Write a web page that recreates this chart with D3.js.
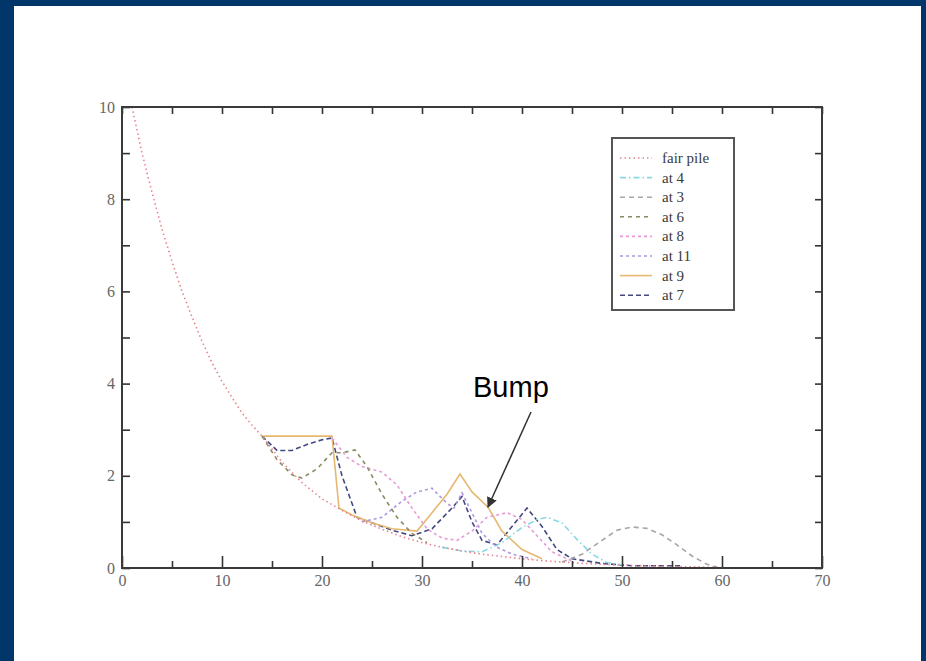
<!DOCTYPE html>
<html>
<head>
<meta charset="utf-8">
<style>
  body { margin: 0; background: #01366b; }
  svg { display: block; }
</style>
</head>
<body>
<svg id="chart" width="926" height="661"></svg>
<script src="https://cdn.jsdelivr.net/npm/d3@7"></script>
<script>
// values
var fairPileX = [1, 2, 3, 4, 5, 6, 7, 8, 9, 10, 11, 12, 13, 14, 16, 18, 20, 22, 24, 26, 28, 30, 32, 34, 36, 38, 40, 42, 44, 46, 48, 50, 52, 54, 56, 58, 60];
var fairPileY = [10, 9.0, 8.15, 7.35, 6.65, 6.0, 5.45, 4.92, 4.45, 4.05, 3.7, 3.36, 3.1, 2.86, 2.3, 1.85, 1.5, 1.25, 1.02, 0.84, 0.68, 0.55, 0.45, 0.37, 0.3, 0.25, 0.2, 0.16, 0.13, 0.1, 0.08, 0.06, 0.05, 0.04, 0.03, 0.02, 0.01];

var at4X = [32, 34, 36, 38, 40, 41.5, 42.5, 44, 45.5, 47, 48.5, 50];
var at4Y = [0.45, 0.37, 0.35, 0.55, 0.88, 1.05, 1.1, 0.98, 0.62, 0.3, 0.12, 0.07];

var at3X = [44, 46, 48, 49.5, 51, 52.5, 54, 55.5, 57, 58.5, 59.5];
var at3Y = [0.13, 0.3, 0.6, 0.82, 0.89, 0.86, 0.72, 0.5, 0.26, 0.08, 0.02];

var at6X = [14, 15.5, 17, 18, 19.5, 21, 22, 23.3, 24.5, 26, 27.5, 29, 30.5];
var at6Y = [2.86, 2.35, 2.02, 1.95, 2.15, 2.5, 2.5, 2.56, 2.2, 1.6, 1.1, 0.75, 0.55];

var at8X = [21, 22.5, 24, 26, 27.5, 29, 30.5, 32, 33.5, 35, 36.5, 38.5, 40, 41.5, 43, 45];
var at8Y = [2.82, 2.4, 2.2, 2.08, 1.8, 1.3, 0.85, 0.65, 0.6, 0.8, 1.1, 1.2, 1.05, 0.7, 0.35, 0.15];

var at11X = [24, 26, 28, 29.5, 31, 32.5, 33.2, 34, 35, 36, 37.5, 39, 41];
var at11Y = [1.0, 1.1, 1.45, 1.65, 1.73, 1.4, 1.3, 1.63, 1.2, 0.75, 0.45, 0.3, 0.2];

var at9X = [14, 21, 21.7, 23, 25, 27, 29.5, 31, 32.5, 33.8, 35, 36.6, 38, 40, 42];
var at9Y = [2.86, 2.86, 1.3, 1.15, 0.98, 0.85, 0.8, 1.2, 1.6, 2.04, 1.65, 1.32, 0.8, 0.4, 0.2];

var at7X = [14, 15.5, 17, 18.5, 20, 21, 22, 23.5, 25, 27, 29, 31, 33, 34, 35, 36, 37.5, 39, 40.5, 42, 43.5, 45, 48, 51, 53.5, 56];
var at7Y = [2.86, 2.55, 2.55, 2.68, 2.78, 2.82, 2.0, 1.1, 0.98, 0.82, 0.7, 0.85, 1.3, 1.55, 1.0, 0.6, 0.5, 0.9, 1.3, 0.9, 0.4, 0.2, 0.1, 0.05, 0.05, 0.05];

var xMajor = [0, 10, 20, 30, 40, 50, 60, 70];
var xMinor = [5, 15, 25, 35, 45, 55, 65];
var yMajor = [0, 2, 4, 6, 8, 10];
var yMinor = [1, 3, 5, 7, 9];

var series = [
    { name: 'fair pile', x: fairPileX, y: fairPileY, color: '#e8848c', dash: '1.5,3' },
    { name: 'at 4', x: at4X, y: at4Y, color: '#8ad8e4', dash: '6,3,1.5,3' },
    { name: 'at 3', x: at3X, y: at3Y, color: '#a6a6aa', dash: '5,4' },
    { name: 'at 6', x: at6X, y: at6Y, color: '#8a8a62', dash: '4,4' },
    { name: 'at 8', x: at8X, y: at8Y, color: '#e79ad9', dash: '3,3' },
    { name: 'at 11', x: at11X, y: at11Y, color: '#ae98e2', dash: '3,3' },
    { name: 'at 9', x: at9X, y: at9Y, color: '#e6b870', dash: null },
    { name: 'at 7', x: at7X, y: at7Y, color: '#444880', dash: '5,3' }
];

var svg = d3.select('#chart');

svg.append('rect').attr('x', 14).attr('y', 6).attr('width', 907).attr('height', 660).attr('fill', '#fff');

var xScale = d3.scaleLinear().domain([0, 70]).range([122, 822]);
var yScale = d3.scaleLinear().domain([0, 10]).range([568, 107]);

var line = d3.line()
    .x(function (d) { return xScale(d[0]); })
    .y(function (d) { return yScale(d[1]); });

var plot = svg.append('g');
series.slice().reverse().forEach(function (s) {
    var pts = s.x.map(function (v, i) { return [v, s.y[i]]; });
    plot.append('path')
        .attr('d', line(pts))
        .attr('fill', 'none')
        .attr('stroke', s.color)
        .attr('stroke-width', 1.6)
        .attr('stroke-dasharray', s.dash);
});

var styleAxis = function (g) {
    g.select('.domain').remove();
    g.selectAll('line').attr('stroke', '#333').attr('stroke-width', 1.6);
    g.selectAll('text').attr('fill', '#666')
        .style('font-family', '"Liberation Serif", "DejaVu Serif", serif').style('font-size', '16px');
};

// bottom and left: long ticks with labels, short ticks without
svg.append('g').attr('transform', 'translate(0,568)')
    .call(d3.axisBottom(xScale).tickValues(xMajor).tickSizeInner(-12).tickSizeOuter(0).tickPadding(7))
    .call(styleAxis);
svg.append('g').attr('transform', 'translate(0,568)')
    .call(d3.axisBottom(xScale).tickValues(xMinor).tickSizeInner(-7).tickSizeOuter(0).tickFormat(''))
    .call(styleAxis);
svg.append('g').attr('transform', 'translate(122,0)')
    .call(d3.axisLeft(yScale).tickValues(yMajor).tickSizeInner(-8).tickSizeOuter(0).tickPadding(7))
    .call(styleAxis);
svg.append('g').attr('transform', 'translate(122,0)')
    .call(d3.axisLeft(yScale).tickValues(yMinor).tickSizeInner(-8).tickSizeOuter(0).tickFormat(''))
    .call(styleAxis);
// top and right: ticks only
svg.append('g').attr('transform', 'translate(0,107)')
    .call(d3.axisTop(xScale).tickValues(xMajor.concat(xMinor)).tickSizeInner(-7).tickSizeOuter(0).tickFormat(''))
    .call(styleAxis);
svg.append('g').attr('transform', 'translate(822,0)')
    .call(d3.axisRight(yScale).tickValues(yMajor.concat(yMinor)).tickSizeInner(-7).tickSizeOuter(0).tickFormat(''))
    .call(styleAxis);

svg.append('rect')
    .attr('x', xScale(0)).attr('y', yScale(10))
    .attr('width', xScale(70) - xScale(0)).attr('height', yScale(0) - yScale(10))
    .attr('fill', 'none').attr('stroke', '#3a3a3a').attr('stroke-width', 2);

// legend
var legend = svg.append('g');
legend.append('rect').attr('x', 612).attr('y', 138).attr('width', 122).attr('height', 172)
    .attr('fill', '#fff').attr('stroke', '#555').attr('stroke-width', 2);
series.forEach(function (s, i) {
    var ly = 158 + i * 19.6;
    legend.append('line').attr('x1', 620).attr('x2', 652).attr('y1', ly).attr('y2', ly)
        .attr('stroke', s.color).attr('stroke-width', 1.6).attr('stroke-dasharray', s.dash);
    legend.append('text').attr('x', 662).attr('y', ly + 5).text(s.name)
        .attr('fill', '#3a3a3a')
        .style('font-family', '"Liberation Serif", "DejaVu Serif", serif').style('font-size', '15px');
});

// annotation
svg.append('defs').append('marker')
    .attr('id', 'head').attr('viewBox', '0 0 10 10').attr('refX', 9).attr('refY', 5)
    .attr('markerWidth', 7).attr('markerHeight', 7).attr('orient', 'auto')
    .append('path').attr('d', 'M0,0L10,5L0,10z').attr('fill', '#333');
svg.append('line').attr('x1', 531).attr('y1', 412).attr('x2', 488).attr('y2', 507)
    .attr('stroke', '#333').attr('stroke-width', 1.5).attr('marker-end', 'url(#head)');
svg.append('text').attr('x', 473).attr('y', 397).text('Bump')
    .attr('fill', '#000')
    .style('font-family', '"Liberation Sans", Arial, sans-serif').style('font-size', '29px');
</script>
</body>
</html>
